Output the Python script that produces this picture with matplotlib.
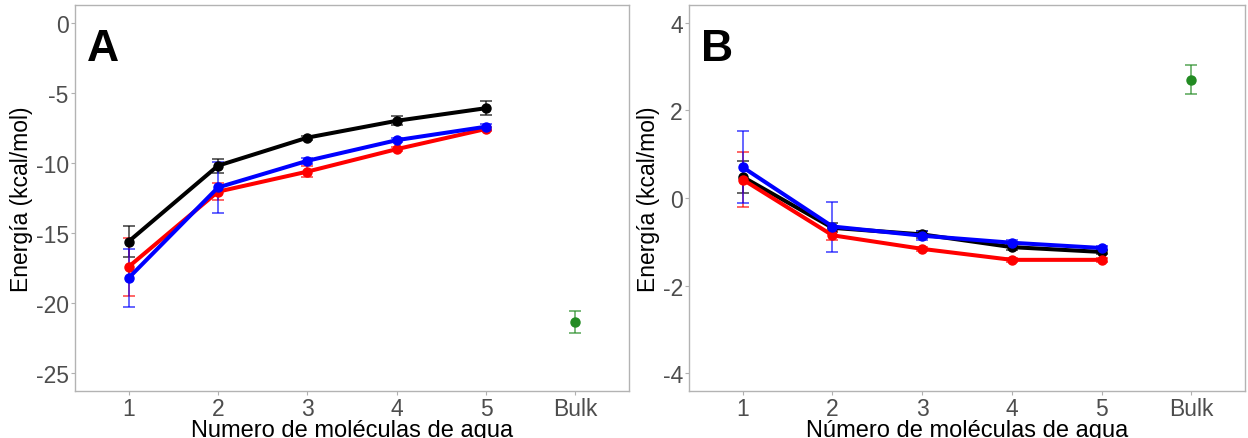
import numpy as np
import matplotlib.pyplot as plt

plt.rcParams['font.family'] = ['Liberation Sans', 'DejaVu Sans']

x_pos = [1, 2, 3, 4, 5]
x_labels = ['1', '2', '3', '4', '5', 'Bulk']

# Panel A
a_black = [-15.6, -10.2, -8.2, -7.0, -6.1]
a_black_err = [1.1, 0.5, 0.15, 0.33, 0.5]
a_blue = [-18.2, -11.75, -9.85, -8.38, -7.42]
a_blue_err = [2.1, 1.8, 0.2, 0.15, 0.2]
a_red = [-17.4, -12.05, -10.62, -9.02, -7.58]
a_red_err = [2.05, 0.6, 0.38, 0.15, 0.15]
a_bulk = -21.35
a_bulk_err = 0.78

# Panel B
b_black = [0.48, -0.68, -0.83, -1.12, -1.23]
b_black_err = [0.37, 0.1, 0.08, 0.06, 0.05]
b_blue = [0.7, -0.65, -0.86, -1.02, -1.14]
b_blue_err = [0.82, 0.57, 0.1, 0.07, 0.05]
b_red = [0.42, -0.85, -1.16, -1.41, -1.41]
b_red_err = [0.62, 0.1, 0.05, 0.04, 0.04]
b_bulk = 2.70
b_bulk_err = 0.34

W, H = 1248, 439
fig = plt.figure(figsize=(W / 100, H / 100), dpi=100)


def px_axes(left, right, top, bottom):
    return fig.add_axes([left / W, 1 - bottom / H, (right - left) / W, (bottom - top) / H])


def draw_panel(ax, series, bulk, bulk_err, ylim, yticks, xlabel, letter):
    for vals, errs, col in series:
        ax.errorbar(x_pos, vals, yerr=errs, fmt='none', ecolor=col, alpha=0.7,
                    elinewidth=1.2, capsize=4, capthick=1.2, zorder=2)
        ax.plot(x_pos, vals, '-o', color=col, lw=2.9, markersize=6.5, zorder=3)
    ax.errorbar([6], [bulk], yerr=[bulk_err], fmt='none', ecolor='#228B22', alpha=0.7,
                elinewidth=1.2, capsize=4, capthick=1.2)
    ax.plot([6], [bulk], 'o', color='#228B22', markersize=6.5)
    ax.set_xlim(0.4, 6.6)
    ax.set_ylim(*ylim)
    ax.set_xticks([1, 2, 3, 4, 5, 6])
    ax.set_xticklabels(x_labels)
    ax.set_yticks(yticks)
    ax.set_yticklabels([str(t) for t in yticks])
    ax.tick_params(colors='#B0B0B0', labelcolor='#4D4D4D', labelsize=16.5,
                   length=3, width=0.8, pad=1.5)
    for s in ax.spines.values():
        s.set_color('#B3B3B3')
        s.set_linewidth(1.0)
    ax.set_xlabel(xlabel, fontsize=17, labelpad=-1)
    ax.set_ylabel('Energía (kcal/mol)', fontsize=16.5, labelpad=2)
    ax.text(0.022, 0.94, letter, transform=ax.transAxes, fontsize=32,
            fontweight='bold', va='top', ha='left')


axA = px_axes(75, 629, 6, 392)
draw_panel(axA, [(a_black, a_black_err, 'black'), (a_red, a_red_err, 'red'),
                 (a_blue, a_blue_err, 'blue')],
           a_bulk, a_bulk_err, (-26.25, 1.25), [0, -5, -10, -15, -20, -25],
           'Numero de moléculas de agua', 'A')

axB = px_axes(689, 1245, 6, 392)
draw_panel(axB, [(b_black, b_black_err, 'black'), (b_red, b_red_err, 'red'),
                 (b_blue, b_blue_err, 'blue')],
           b_bulk, b_bulk_err, (-4.4, 4.4), [4, 2, 0, -2, -4],
           'Número de moléculas de agua', 'B')

fig.savefig('out.png', dpi=100)
